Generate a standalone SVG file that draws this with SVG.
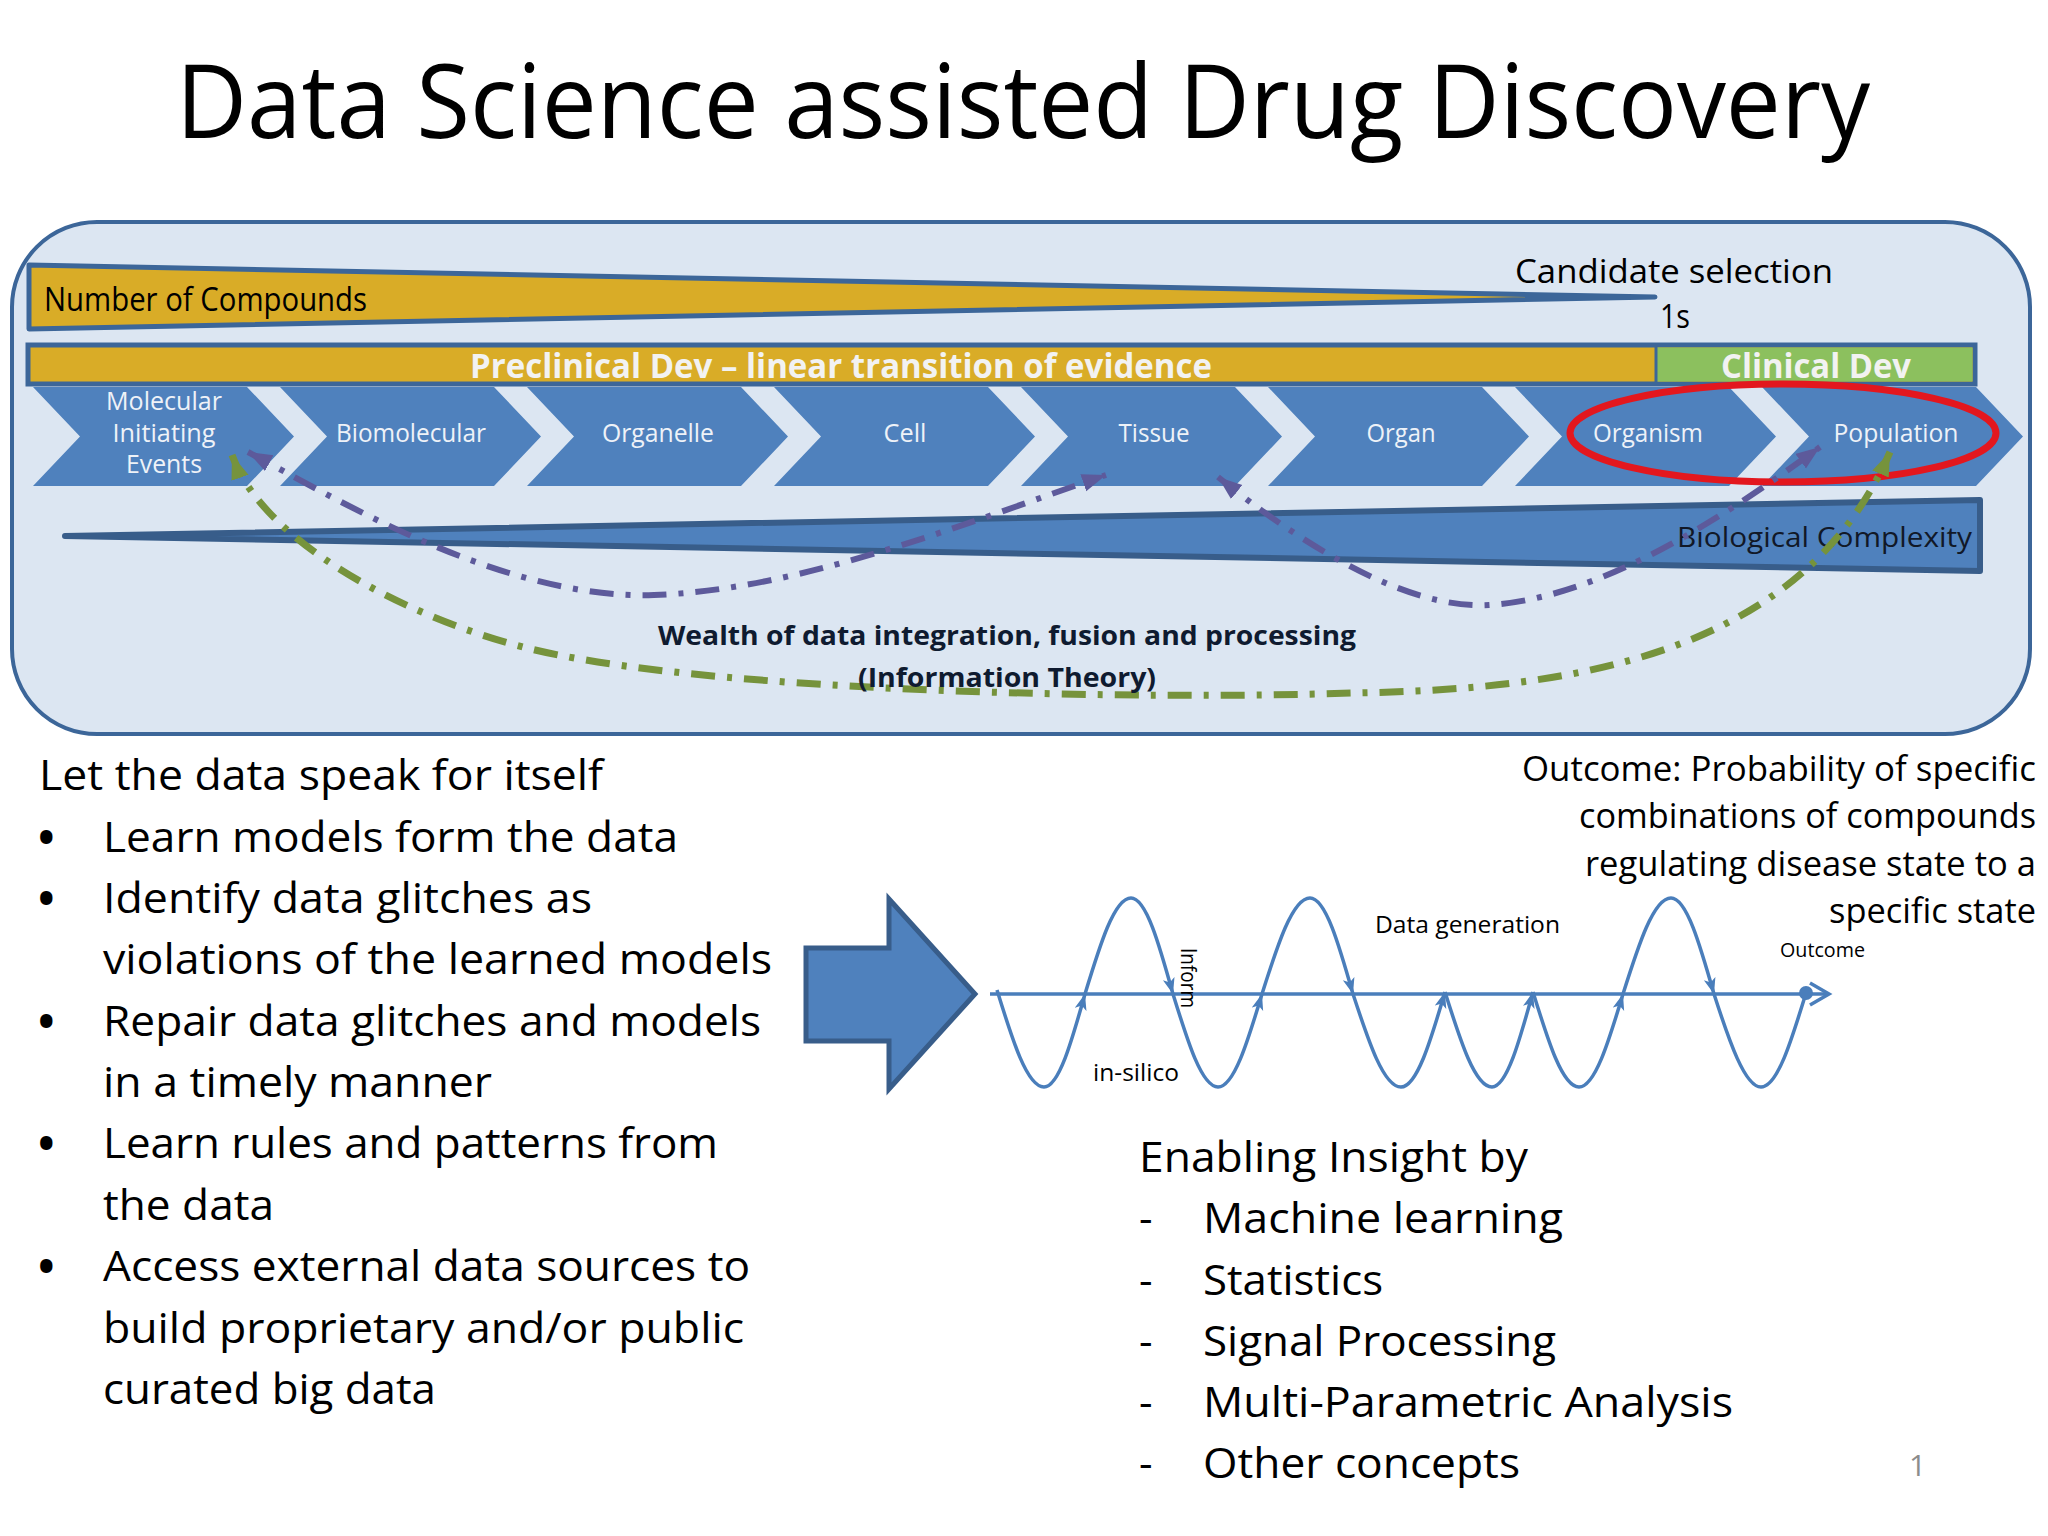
<svg xmlns="http://www.w3.org/2000/svg" width="2048" height="1536" viewBox="0 0 2048 1536">
<defs>
<style>
text{font-family:"Open Sans","Noto Sans","Liberation Sans",sans-serif;fill:#000;}
.chev{fill:#4F81BD;}
.cl{fill:#EEF2F8;font-size:25px;text-anchor:middle;}
.body{font-size:42px;}
.bul{font-size:44px;font-weight:bold;}
.out{font-size:34px;text-anchor:end;}
.wave{fill:none;stroke:#4A7EBB;stroke-width:3.5;}
.wa{marker-end:url(#wm);}
.pdash{fill:none;stroke:#5D5A9B;stroke-width:6;stroke-dasharray:24 12 5 12;marker-start:url(#mp);marker-end:url(#mp);}
.gdash{fill:none;stroke:#76933C;stroke-width:7;stroke-dasharray:24 12 5 12;marker-start:url(#mg);marker-end:url(#mg);}
.bold{font-weight:bold;}
</style>
<path id="chevshape" d="M0,0 H214 L261,49.5 L214,99 H0 L47,49.5 Z"/>
<marker id="mp" markerUnits="userSpaceOnUse" markerWidth="26" markerHeight="20" refX="24" refY="9" orient="auto-start-reverse"><path d="M0,0 L24,9 L0,18 Z" fill="#5D5A9B"/></marker>
<marker id="mg" markerUnits="userSpaceOnUse" markerWidth="26" markerHeight="20" refX="24" refY="9" orient="auto-start-reverse"><path d="M0,0 L24,9 L0,18 Z" fill="#76933C"/></marker>
<marker id="wm" markerUnits="userSpaceOnUse" markerWidth="18" markerHeight="14" refX="16" refY="6" orient="auto"><path d="M0,0 L16,6 L0,12 L4,6 Z" fill="#4A7EBB"/></marker>
</defs>

<rect width="2048" height="1536" fill="#FFFFFF"/>

<g id="title">
<text x="176" y="138" font-size="102" textLength="1694" lengthAdjust="spacingAndGlyphs">Data Science assisted Drug Discovery</text>
</g>

<g id="panel">
<rect x="12" y="222" width="2018" height="512" rx="85" ry="85" fill="#DCE6F2" stroke="#3C6699" stroke-width="4"/>
</g>

<g id="compounds">
<polygon points="29,265 1655,297 29,329" fill="#D9AC27" stroke="#3C6699" stroke-width="5" stroke-linejoin="round"/>
<text x="44" y="311" font-size="32" textLength="323" lengthAdjust="spacingAndGlyphs">Number of Compounds</text>
</g>

<g id="candidate">
<text x="1515" y="283" font-size="32" textLength="318" lengthAdjust="spacingAndGlyphs">Candidate selection</text>
<text x="1660" y="328" font-size="32" textLength="30" lengthAdjust="spacingAndGlyphs">1s</text>
</g>

<g id="phases">
<rect x="28" y="345" width="1947" height="39" fill="#D9AC27" stroke="#3C6699" stroke-width="5"/>
<rect x="1657" y="347.5" width="315.5" height="34" fill="#8CC05E"/>
<line x1="1656" y1="345" x2="1656" y2="384" stroke="#3C6699" stroke-width="3"/>
<text class="bold" x="841" y="378" font-size="34" text-anchor="middle" textLength="742" lengthAdjust="spacingAndGlyphs" style="fill:#F2F2F2">Preclinical Dev – linear transition of evidence</text>
<text class="bold" x="1816" y="378" font-size="34" text-anchor="middle" textLength="190" lengthAdjust="spacingAndGlyphs" style="fill:#F2F2F2">Clinical Dev</text>
</g>

<g id="chevron-mie">
<use href="#chevshape" x="33" y="387" class="chev"/>
<text class="cl" x="164" y="410" textLength="116" lengthAdjust="spacingAndGlyphs">Molecular</text>
<text class="cl" x="164" y="442" textLength="103" lengthAdjust="spacingAndGlyphs">Initiating</text>
<text class="cl" x="164" y="473" textLength="76" lengthAdjust="spacingAndGlyphs">Events</text>
</g>
<g id="chevron-biomolecular">
<use href="#chevshape" x="280" y="387" class="chev"/>
<text class="cl" x="411" y="442" textLength="150" lengthAdjust="spacingAndGlyphs">Biomolecular</text>
</g>
<g id="chevron-organelle">
<use href="#chevshape" x="527" y="387" class="chev"/>
<text class="cl" x="658" y="442" textLength="112" lengthAdjust="spacingAndGlyphs">Organelle</text>
</g>
<g id="chevron-cell">
<use href="#chevshape" x="774" y="387" class="chev"/>
<text class="cl" x="905" y="442" textLength="43" lengthAdjust="spacingAndGlyphs">Cell</text>
</g>
<g id="chevron-tissue">
<use href="#chevshape" x="1021" y="387" class="chev"/>
<text class="cl" x="1154" y="442" textLength="71" lengthAdjust="spacingAndGlyphs">Tissue</text>
</g>
<g id="chevron-organ">
<use href="#chevshape" x="1268" y="387" class="chev"/>
<text class="cl" x="1401" y="442" textLength="69" lengthAdjust="spacingAndGlyphs">Organ</text>
</g>
<g id="chevron-organism">
<use href="#chevshape" x="1515" y="387" class="chev"/>
<text class="cl" x="1648" y="442" textLength="110" lengthAdjust="spacingAndGlyphs">Organism</text>
</g>
<g id="chevron-population">
<use href="#chevshape" x="1762" y="387" class="chev"/>
<text class="cl" x="1896" y="442" textLength="125" lengthAdjust="spacingAndGlyphs">Population</text>
</g>

<g id="complexity">
<polygon points="65,536 1980,500 1980,571" fill="#4F81BD" stroke="#385D8A" stroke-width="6" stroke-linejoin="round"/>
<text x="1677" y="547" font-size="28" textLength="295" lengthAdjust="spacingAndGlyphs" style="fill:#111827">Biological Complexity</text>
</g>

<g id="highlight">
<ellipse cx="1783" cy="433" rx="213" ry="49" fill="none" stroke="#E3171E" stroke-width="7"/>
</g>

<g id="connectors">
<path class="pdash" d="M248 452 C330 495 500 600 654 595 C800 590 960 525 1106 475"/>
<path class="pdash" d="M1218 477 C1290 535 1400 610 1489 605 C1600 598 1720 520 1820 447"/>
<path class="gdash" d="M232 455 C262 540 400 615 523 647 C700 693 1150 700 1351 693 C1560 690 1800 660 1890 452"/>
</g>

<g id="integration-label">
<text class="bold" x="658" y="645" font-size="27" textLength="698" lengthAdjust="spacingAndGlyphs" style="fill:#0F1B30">Wealth of data integration, fusion and processing</text>
<text class="bold" x="858" y="687" font-size="27" textLength="298" lengthAdjust="spacingAndGlyphs" style="fill:#0F1B30">(Information Theory)</text>
</g>

<g id="left-text">
<text class="body" x="39" y="790" textLength="564" lengthAdjust="spacingAndGlyphs">Let the data speak for itself</text>
<text class="bul" x="38" y="853">•</text>
<text class="body" x="103" y="852" textLength="575" lengthAdjust="spacingAndGlyphs">Learn models form the data</text>
<text class="bul" x="38" y="914">•</text>
<text class="body" x="103" y="913" textLength="489" lengthAdjust="spacingAndGlyphs">Identify data glitches as</text>
<text class="body" x="103" y="974" textLength="669" lengthAdjust="spacingAndGlyphs">violations of the learned models</text>
<text class="bul" x="38" y="1037">•</text>
<text class="body" x="103" y="1036" textLength="658" lengthAdjust="spacingAndGlyphs">Repair data glitches and models</text>
<text class="body" x="103" y="1097" textLength="389" lengthAdjust="spacingAndGlyphs">in a timely manner</text>
<text class="bul" x="38" y="1159">•</text>
<text class="body" x="103" y="1158" textLength="615" lengthAdjust="spacingAndGlyphs">Learn rules and patterns from</text>
<text class="body" x="103" y="1220" textLength="171" lengthAdjust="spacingAndGlyphs">the data</text>
<text class="bul" x="38" y="1282">•</text>
<text class="body" x="103" y="1281" textLength="647" lengthAdjust="spacingAndGlyphs">Access external data sources to</text>
<text class="body" x="103" y="1343" textLength="641" lengthAdjust="spacingAndGlyphs">build proprietary and/or public</text>
<text class="body" x="103" y="1404" textLength="333" lengthAdjust="spacingAndGlyphs">curated big data</text>
</g>

<g id="big-arrow">
<polygon points="806,948 889,948 889,899 975,994 889,1089 889,1041 806,1041" fill="#4F81BD" stroke="#385D8A" stroke-width="5"/>
</g>

<g id="cycle-diagram">
<line x1="990" y1="994" x2="1828" y2="994" stroke="#4A7EBB" stroke-width="3.5"/>
<polyline points="1810,983 1829,994 1810,1005" fill="none" stroke="#4A7EBB" stroke-width="3.5"/>
<path class="wave wa" d="M997 990 C1012.3 1039.7 1027 1087 1044 1087 C1058.8 1087 1071.6 1041.6 1085 994"/>
<path class="wave wa" d="M1085 994 C1100 944.8 1114.3 898 1131 898 C1146.2 898 1159.3 944.8 1173 994"/>
<path class="wave wa" d="M1173 994 C1187.7 1041.6 1201.7 1087 1218 1087 C1233.9 1087 1247.7 1041.6 1262 994"/>
<path class="wave wa" d="M1262 994 C1277.6 944.8 1292.6 898 1310 898 C1325.6 898 1339 944.8 1353 994"/>
<path class="wave wa" d="M1353 994 C1368.6 1041.6 1383.6 1087 1401 1087 C1416.9 1087 1430.7 1040.6 1445 992"/>
<path class="wave wa" d="M1445 992 C1460.3 1040.6 1475 1087 1492 1087 C1506.8 1087 1519.6 1040.6 1533 992"/>
<path class="wave wa" d="M1533 992 C1548 1040.6 1562.3 1087 1579 1087 C1594.9 1087 1608.7 1041.6 1623 994"/>
<path class="wave wa" d="M1623 994 C1638.6 944.8 1653.6 898 1671 898 C1686.6 898 1700 944.8 1714 994"/>
<path class="wave" d="M1714 994 C1729.3 1041.6 1745 1087 1761 1087 C1777.3 1087 1791.3 1041.1 1806 993"/>
<circle cx="1806" cy="993" r="7" fill="#4A7EBB"/>
<text transform="translate(1181,948) rotate(90)" font-size="22" textLength="60" lengthAdjust="spacingAndGlyphs">Inform</text>
<text x="1093" y="1081" font-size="23" textLength="86" lengthAdjust="spacingAndGlyphs">in-silico</text>
<text x="1375" y="933" font-size="24" textLength="185" lengthAdjust="spacingAndGlyphs">Data generation</text>
<text x="1780" y="957" font-size="20" textLength="85" lengthAdjust="spacingAndGlyphs">Outcome</text>
</g>

<g id="outcome-text">
<text class="out" x="2036" y="781" textLength="514" lengthAdjust="spacingAndGlyphs">Outcome: Probability of specific</text>
<text class="out" x="2036" y="828" textLength="457" lengthAdjust="spacingAndGlyphs">combinations of compounds</text>
<text class="out" x="2036" y="876" textLength="451" lengthAdjust="spacingAndGlyphs">regulating disease state to a</text>
<text class="out" x="2036" y="923" textLength="207" lengthAdjust="spacingAndGlyphs">specific state</text>
</g>

<g id="insight-text">
<text class="body" x="1139" y="1172" textLength="389" lengthAdjust="spacingAndGlyphs">Enabling Insight by</text>
<text class="body" x="1139" y="1233">-</text>
<text class="body" x="1203" y="1233" textLength="360" lengthAdjust="spacingAndGlyphs">Machine learning</text>
<text class="body" x="1139" y="1295">-</text>
<text class="body" x="1203" y="1295" textLength="180" lengthAdjust="spacingAndGlyphs">Statistics</text>
<text class="body" x="1139" y="1356">-</text>
<text class="body" x="1203" y="1356" textLength="353" lengthAdjust="spacingAndGlyphs">Signal Processing</text>
<text class="body" x="1139" y="1417">-</text>
<text class="body" x="1203" y="1417" textLength="530" lengthAdjust="spacingAndGlyphs">Multi-Parametric Analysis</text>
<text class="body" x="1139" y="1478">-</text>
<text class="body" x="1203" y="1478" textLength="317" lengthAdjust="spacingAndGlyphs">Other concepts</text>
</g>

<g id="page-number">
<text x="1909" y="1476" font-size="30" style="fill:#8C8C8C">1</text>
</g>
</svg>
